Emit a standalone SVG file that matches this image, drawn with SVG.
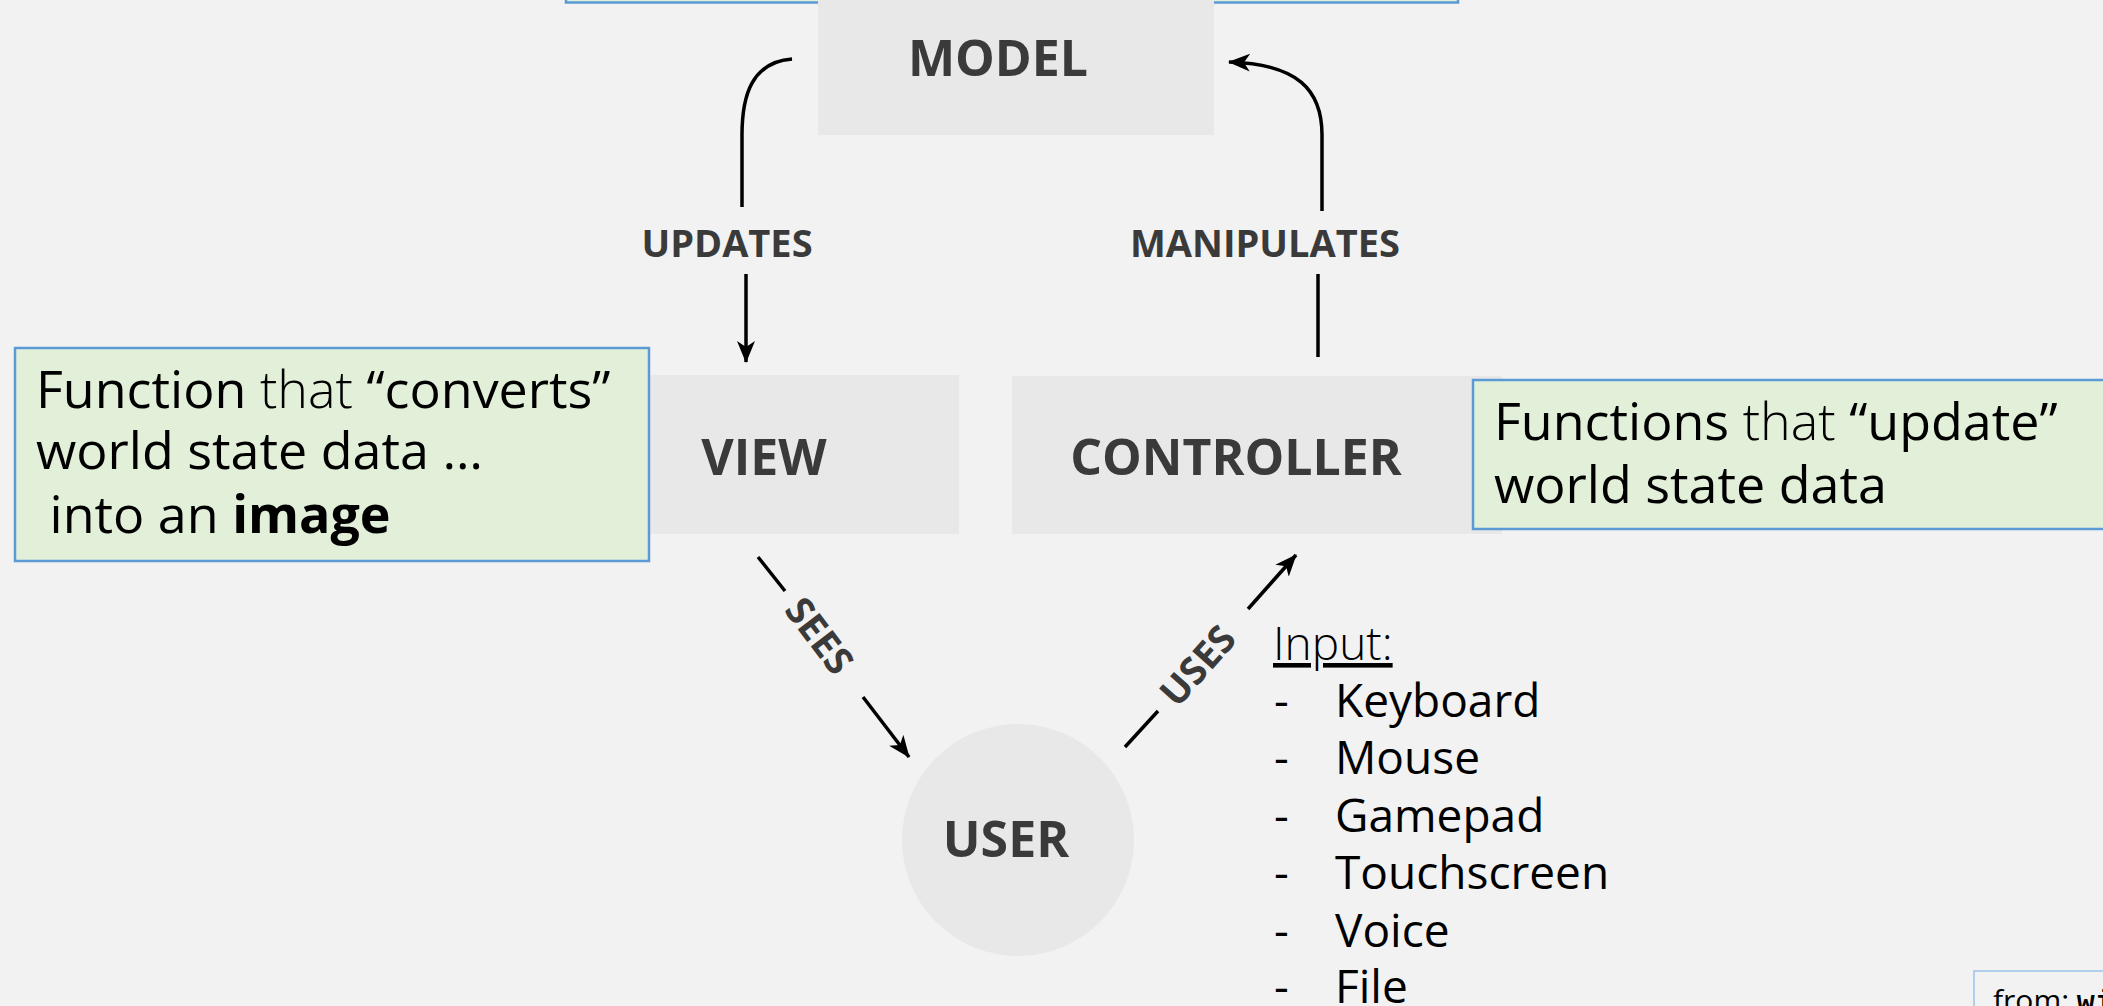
<svg xmlns="http://www.w3.org/2000/svg" width="2103" height="1006" viewBox="0 0 2103 1006">
  <style>
    .node { fill: #e8e8e8; }
    .nlabel { font-family: "Open Sans", "Liberation Sans", sans-serif; font-weight: 700; font-size: 50px; fill: #3a3a3a; text-anchor: middle; }
    .elabel { font-family: "Open Sans", "Liberation Sans", sans-serif; font-weight: 700; font-size: 38px; fill: #3a3a3a; text-anchor: middle; }
    .note { fill: #e2efd9; stroke: #5b9bd5; stroke-width: 2.5; }
    .ntext { font-family: "Open Sans", "Noto Sans", sans-serif; font-size: 52px; fill: #000; font-weight: 400; }
    .light { font-weight: 300; }
    .bold { font-weight: 700; }
    .list { font-family: "Open Sans", "Noto Sans", sans-serif; font-size: 46px; fill: #000; }
    .conn { fill: none; stroke: #000; stroke-width: 3.5; }
  </style>
  <defs>
    <marker id="arrow" viewBox="0 0 22 18" refX="21" refY="9" markerWidth="22" markerHeight="18" markerUnits="userSpaceOnUse" orient="auto">
      <path d="M0,0 L22,9 L0,18 L6,9 z" fill="#000"/>
    </marker>
  </defs>
  <rect x="0" y="0" width="2103" height="1006" fill="#f2f2f2"/>

  <g id="top-note">
    <rect x="566" y="-40" width="892" height="42.5" class="note"/>
  </g>

  <g id="model">
    <rect x="818" y="-25" width="396" height="160" class="node"/>
    <text x="998" y="76" class="nlabel">MODEL</text>
  </g>

  <g id="view">
    <rect x="570" y="375" width="389" height="159" class="node"/>
    <text x="764" y="475" class="nlabel">VIEW</text>
  </g>

  <g id="controller">
    <rect x="1012" y="376" width="490" height="158" class="node"/>
    <text x="1236" y="475" class="nlabel">CONTROLLER</text>
  </g>

  <g id="user">
    <circle cx="1018" cy="840" r="116" class="node"/>
    <text x="1006" y="857" class="nlabel">USER</text>
  </g>

  <g id="view-note">
    <rect x="15" y="348" width="634" height="213" class="note"/>
    <text x="36" y="408" class="ntext">Function<tspan class="light"> that </tspan>“converts”</text>
    <text x="36" y="469" class="ntext">world state data …</text>
    <text x="36" y="533" class="ntext" xml:space="preserve"> into an <tspan class="bold">image</tspan></text>
  </g>

  <g id="controller-note">
    <rect x="1473" y="380" width="680" height="149" class="note"/>
    <text x="1494" y="440" class="ntext">Functions<tspan class="light"> that </tspan>“update”</text>
    <text x="1494" y="503" class="ntext">world state data</text>
  </g>

  <g id="input-list">
    <text x="1273" y="660" class="list light" text-decoration="underline">Input:</text>
    <text x="1274" y="717" class="list">-</text><text x="1335" y="717" class="list">Keyboard</text>
    <text x="1274" y="774" class="list">-</text><text x="1335" y="774" class="list">Mouse</text>
    <text x="1274" y="832" class="list">-</text><text x="1335" y="832" class="list">Gamepad</text>
    <text x="1274" y="889" class="list">-</text><text x="1335" y="889" class="list">Touchscreen</text>
    <text x="1274" y="947" class="list">-</text><text x="1335" y="947" class="list">Voice</text>
    <text x="1274" y="1003" class="list">-</text><text x="1335" y="1003" class="list">File</text>
  </g>

  <g id="source">
    <rect x="1974" y="971" width="200" height="80" fill="#f2f2f2" stroke="#9dc3e6" stroke-width="1.5"/>
    <text x="1993" y="1011" font-family="Open Sans, Liberation Sans, sans-serif" font-size="30" fill="#000">from: <tspan font-family="Liberation Mono, monospace" font-weight="700">wi</tspan></text>
  </g>

  <g id="connectors">
    <path class="conn" d="M792 59 C752 62 742 95 742 135 L742 207"/>
    <path class="conn" d="M746 274 L746 362" marker-end="url(#arrow)"/>
    <path class="conn" d="M1318 357 L1318 274"/>
    <path class="conn" d="M1322 211 L1322 135 C1322 90 1298 64 1229 62" marker-end="url(#arrow)"/>
    <path class="conn" d="M758 557 L785 591"/>
    <path class="conn" d="M863 697 L909 757" marker-end="url(#arrow)"/>
    <path class="conn" d="M1125 747 L1158 711"/>
    <path class="conn" d="M1248 609 L1296 555" marker-end="url(#arrow)"/>
    <text x="727" y="257" class="elabel">UPDATES</text>
    <text x="1265" y="257" class="elabel">MANIPULATES</text>
    <text x="819" y="649" class="elabel" transform="rotate(52.9 819 636)">SEES</text>
    <text x="1198" y="679" class="elabel" transform="rotate(-48.3 1198 666)">USES</text>
  </g>
</svg>
